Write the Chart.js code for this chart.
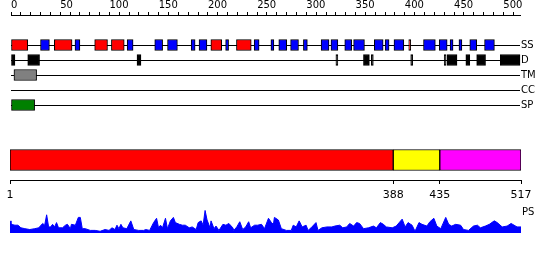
<!DOCTYPE html>
<html>
<head>
<meta charset="utf-8">
<script src="https://cdn.jsdelivr.net/npm/chart.js@4"></script>
<style>
body { margin: 0; background: #fff; }
#wrap { position: relative; width: 550px; height: 260px; }
canvas { position: absolute; left: 0; }
</style>
</head>
<body>
<div id="wrap">
<canvas id="tracks" width="550" height="116" style="top:0px"></canvas>
<canvas id="regions" width="550" height="66" style="top:140px"></canvas>
<canvas id="profile" width="550" height="40" style="top:200px"></canvas>
</div>
<script>
// sequence + feature tracks (residue ranges)
var seqLength = 517;
var trackNames = ["SS", "D", "TM", "CC", "SP"];
var profileName = "PS";

var helix = [[0, 17], [44, 62], [85, 98], [102, 115], [203, 214], [229, 244], [404, 406]];
var strand = [[30, 39], [65, 70], [118, 124], [146, 154], [159, 169], [183, 187], [191, 199],
  [218, 221], [247, 252], [264, 267], [272, 280], [284, 292], [297, 301], [315, 323],
  [325, 332], [339, 346], [348, 359], [369, 378], [380, 384], [389, 399], [419, 431],
  [435, 443], [446, 449], [455, 458], [466, 473], [481, 491]];
var disorder = [[0, 4], [17, 29], [128, 132], [330, 332], [358, 364], [366, 368], [406, 408],
  [440, 442], [443, 453], [462, 466], [473, 482], [497, 517]];
var transmem = [[3, 26]];
var signalPep = [[0, 24]];

var regionBounds = [1, 388, 435, 517];
var regionColors = ["#ff0000", "#ffff00", "#ff00ff"];

var psPos = [1, 2, 6, 9, 12, 16, 21, 26, 30, 34,
  36, 38, 40, 42, 44, 46, 48, 50, 54, 57,
  59, 62, 63, 67, 70, 72, 74, 77, 82, 87,
  92, 97, 101, 104, 107, 109, 111, 113, 115, 119,
  123, 126, 131, 136, 138, 142, 146, 149, 151, 153,
  155, 158, 160, 163, 166, 168, 172, 175, 178, 182,
  185, 189, 191, 194, 196, 198, 200, 203, 204, 207,
  209, 212, 216, 219, 222, 226, 227, 230, 233, 236,
  239, 242, 244, 248, 251, 255, 258, 262, 265, 267,
  268, 272, 275, 280, 285, 287, 290, 293, 296, 300,
  302, 305, 310, 312, 316, 321, 326, 329, 334, 337,
  341, 344, 348, 351, 354, 358, 363, 368, 371, 375,
  378, 381, 387, 391, 394, 397, 400, 403, 407, 410,
  414, 417, 422, 425, 429, 432, 436, 441, 444, 447,
  451, 456, 459, 464, 469, 473, 476, 481, 485, 490,
  493, 498, 503, 507, 513, 517];
var psVal = [14, 10, 9, 9, 6, 5, 4, 5, 6, 11,
  9, 21, 7, 7, 10, 7, 12, 6, 6, 9,
  10, 5, 10, 9, 18, 18, 5, 5, 3, 3,
  2, 4, 3, 6, 4, 9, 5, 10, 6, 5,
  14, 4, 3, 3, 4, 3, 12, 17, 6, 9,
  6, 17, 5, 14, 18, 12, 10, 9, 9, 6,
  7, 4, 12, 14, 9, 26, 15, 6, 14, 5,
  8, 3, 10, 9, 11, 6, 3, 7, 13, 4,
  7, 13, 6, 9, 9, 10, 5, 17, 12, 10,
  18, 15, 5, 3, 3, 9, 7, 14, 7, 9,
  3, 6, 12, 3, 6, 7, 7, 8, 9, 6,
  7, 11, 8, 12, 11, 5, 6, 8, 6, 12,
  10, 7, 6, 8, 12, 16, 7, 12, 9, 2,
  12, 10, 8, 13, 17, 8, 5, 18, 10, 8,
  10, 9, 4, 3, 8, 9, 6, 8, 10, 14,
  12, 7, 8, 11, 7, 7];

Chart.defaults.font.family = "DejaVu Sans";
Chart.defaults.color = "#000";
Chart.defaults.animation = false;
Chart.defaults.plugins.legend.display = false;
Chart.defaults.plugins.tooltip.enabled = false;

function boxSet(list, row, color) {
  return {
    data: list.map(function (d) { return { x: [d[0], d[1]], y: row }; }),
    backgroundColor: color,
    borderColor: "#000",
    borderWidth: 1,
    borderSkipped: false,
    barThickness: 11,
    grouped: false,
    clip: false
  };
}

new Chart(document.getElementById("tracks"), {
  type: "bar",
  data: {
    datasets: [
      boxSet(helix, 0, "#ff0000"),
      boxSet(strand, 0, "#0000ff"),
      boxSet(disorder, 1, "#000000"),
      boxSet(transmem, 2, "#808080"),
      boxSet(signalPep, 4, "#008000")
    ]
  },
  options: {
    responsive: false,
    indexAxis: "y",
    layout: { padding: { left: 11, bottom: 11 } },
    scales: {
      x: {
        type: "linear", position: "top", min: 0, max: seqLength, offset: false,
        grid: { drawOnChartArea: false, offset: false, color: "#000", tickLength: 3 },
        border: { color: "#000" },
        ticks: {
          stepSize: 10, autoSkip: false, maxRotation: 0, align: "start", padding: 1,
          includeBounds: false, font: { size: 10 },
          callback: function (v) { return v % 50 === 0 ? v : ""; }
        },
        afterFit: function (s) { s.height = 15; }
      },
      y: {
        type: "linear", position: "right", reverse: true, min: -2, max: 4, offset: false,
        grid: {
          drawTicks: false, offset: false,
          color: function (c) { return c.tick && c.tick.value >= 0 ? "#000" : "rgba(0,0,0,0)"; }
        },
        border: { display: false },
        ticks: {
          stepSize: 1, padding: 1, autoSkip: false, font: { size: 10 },
          callback: function (v) { return trackNames[v] || ""; }
        },
        afterFit: function (s) { s.width = 30; }
      }
    }
  }
});

new Chart(document.getElementById("regions"), {
  type: "bar",
  data: {
    datasets: [{
      data: regionColors.map(function (c, i) { return { x: [regionBounds[i], regionBounds[i + 1]], y: 0 }; }),
      backgroundColor: regionColors,
      borderColor: "#000",
      borderWidth: 1,
      borderSkipped: false,
      barThickness: 21
    }]
  },
  options: {
    responsive: false,
    indexAxis: "y",
    layout: { padding: { left: 10, right: 29 } },
    scales: {
      x: {
        type: "linear", min: 1, max: seqLength, offset: false,
        grid: { drawOnChartArea: false, offset: false, color: "#000", tickLength: 4 },
        border: { color: "#000" },
        ticks: { autoSkip: false, maxRotation: 0, padding: 5, font: { size: 11 } },
        afterBuildTicks: function (s) { s.ticks = regionBounds.map(function (v) { return { value: v }; }); },
        afterFit: function (s) { s.height = 26; }
      },
      y: { type: "linear", min: -1, max: 1, offset: false, display: false }
    }
  }
});

new Chart(document.getElementById("profile"), {
  type: "line",
  data: {
    datasets: [{
      data: psPos.map(function (p, i) { return { x: p, y: psVal[i] }; }),
      borderColor: "#0000ff",
      backgroundColor: "#0000ff",
      borderWidth: 1,
      pointRadius: 0,
      fill: "origin"
    }]
  },
  options: {
    responsive: false,
    layout: { padding: { left: 10, top: 5, bottom: 4 } },
    scales: {
      x: { type: "linear", min: 1, max: seqLength, display: false },
      y: {
        min: 0, max: 30, position: "right",
        grid: { display: false, drawTicks: false },
        border: { display: false },
        ticks: { padding: 1, font: { size: 10 }, callback: function () { return profileName; } },
        afterBuildTicks: function (s) { s.ticks = [{ value: 24 }]; },
        afterFit: function (s) { s.width = 29; }
      }
    }
  }
});
</script>
</body>
</html>
